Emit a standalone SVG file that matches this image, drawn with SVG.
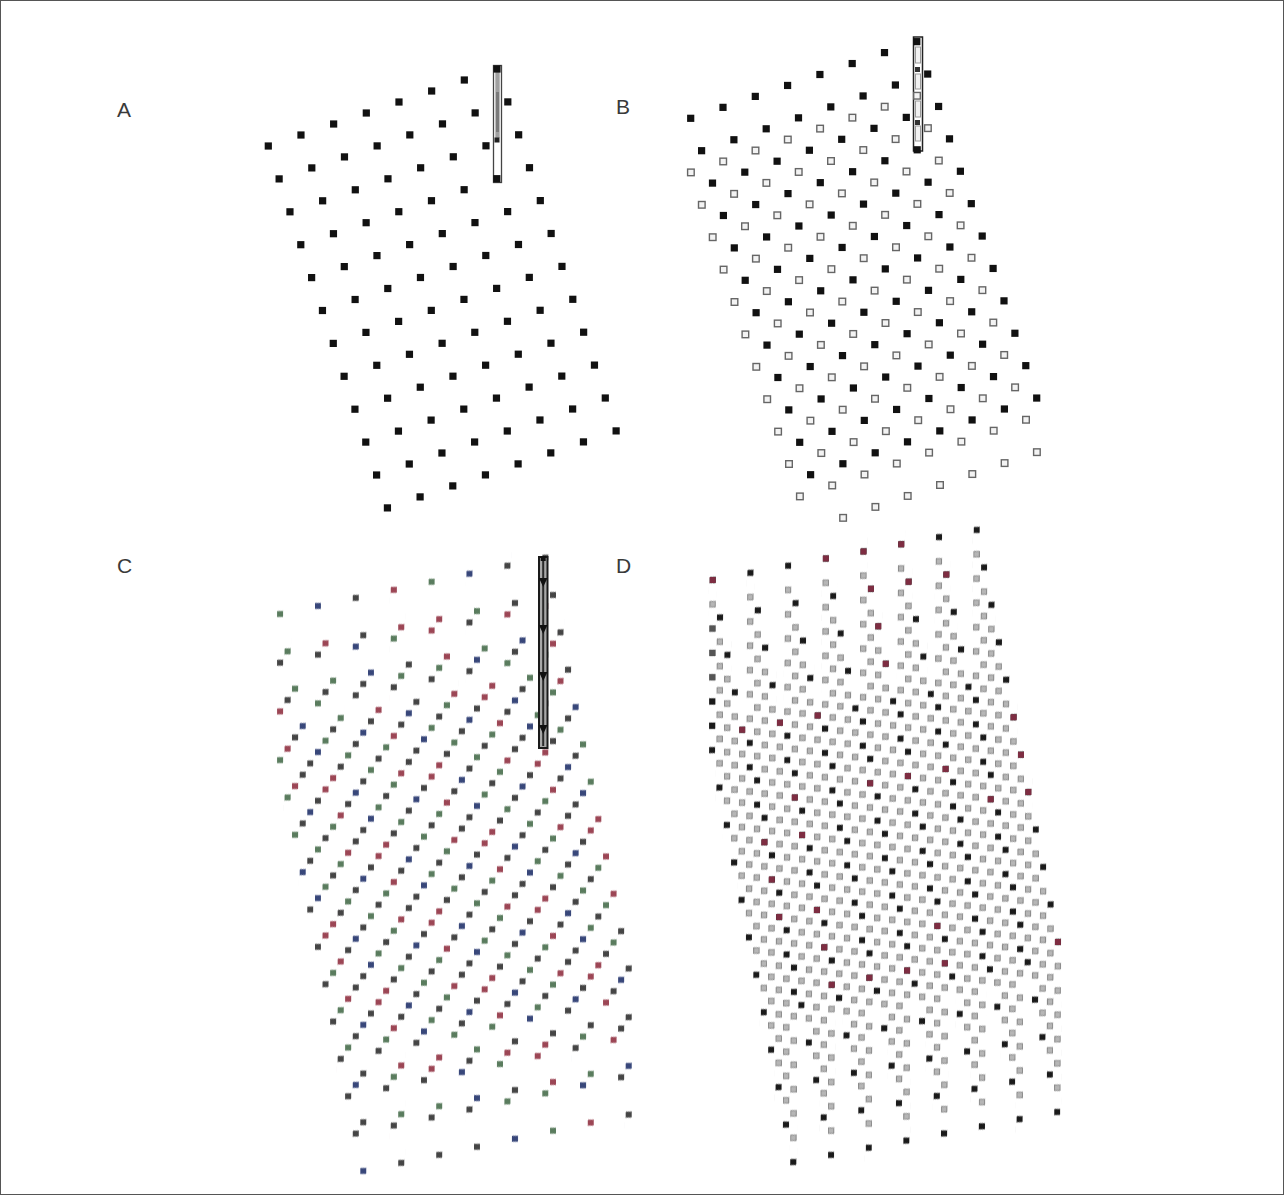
<svg xmlns="http://www.w3.org/2000/svg" width="1284" height="1195" viewBox="0 0 1284 1195">
<style>
.lbl{font-family:"Liberation Sans","DejaVu Sans",sans-serif;font-size:21px;fill:#3a3a3a}
</style>
<defs>
<rect id="sqA" x="-3.6" y="-3.6" width="7.2" height="7.2" fill="#111"/>
<rect id="sqO" x="-3.3" y="-3.3" width="6.6" height="6.6" fill="#f3f3f3" stroke="#666" stroke-width="1.4"/>
<g id="rowA"><use href="#sqA" x="0" y="0"/><use href="#sqA" x="32.67" y="-11"/><use href="#sqA" x="65.34" y="-22"/><use href="#sqA" x="98.01" y="-33"/><use href="#sqA" x="130.68" y="-44"/><use href="#sqA" x="163.35" y="-55"/><use href="#sqA" x="196.02" y="-66"/><use href="#sqA" x="228.69" y="-77"/></g>
<g id="rowB"><use href="#sqA" x="0" y="0"/><use href="#sqA" x="32.3" y="-10.95"/><use href="#sqA" x="64.6" y="-21.9"/><use href="#sqA" x="96.9" y="-32.85"/><use href="#sqA" x="129.2" y="-43.8"/><use href="#sqA" x="161.5" y="-54.75"/><use href="#sqA" x="193.8" y="-65.7"/><use href="#sqA" x="226.1" y="-76.65"/></g>
<g id="rowO7"><use href="#sqO" x="32.3" y="-10.95"/><use href="#sqO" x="64.6" y="-21.9"/><use href="#sqO" x="96.9" y="-32.85"/><use href="#sqO" x="129.2" y="-43.8"/><use href="#sqO" x="161.5" y="-54.75"/><use href="#sqO" x="193.8" y="-65.7"/><use href="#sqO" x="226.1" y="-76.65"/></g>
<g id="rowO"><use href="#sqO" x="0" y="0"/><use href="#rowO7"/></g>
<rect id="cK" transform="matrix(0.131927 0.030747 0 0.020534 0 0)" x="-3" y="-3" width="6" height="6" fill="#454545"/>
<rect id="cG" transform="matrix(0.131927 0.030747 0 0.020534 0 0)" x="-3" y="-3" width="6" height="6" fill="#5a7c5e"/>
<rect id="cR" transform="matrix(0.131927 0.030747 0 0.020534 0 0)" x="-3" y="-3" width="6" height="6" fill="#9c4655"/>
<rect id="cB" transform="matrix(0.131927 0.030747 0 0.020534 0 0)" x="-3" y="-3" width="6" height="6" fill="#38477a"/>
<rect id="dG" transform="matrix(0.132698 0.060888 0.000524 0.041393 0 0)" x="-2.7" y="-2.7" width="5.4" height="5.4" fill="#b6b6b6" stroke="#8a8a8a" stroke-width="1"/>
<rect id="dK" transform="matrix(0.132698 0.060888 0.000524 0.041393 0 0)" x="-3" y="-3" width="6" height="6" fill="#1a1a1a"/>
<rect id="dR" transform="matrix(0.132698 0.060888 0.000524 0.041393 0 0)" x="-3" y="-3" width="6" height="6" fill="#7e2d42"/>
<rect id="dM" transform="matrix(0.132698 0.060888 0.000524 0.041393 0 0)" x="-3" y="-3" width="6" height="6" fill="#555"/>
<pattern id="patC" patternUnits="userSpaceOnUse" x="-0.5" y="-0.5" width="7" height="3">
<use href="#cG" x="0.5" y="0.5"/><use href="#cR" x="1.5" y="0.5"/><use href="#cK" x="2.5" y="0.5"/><use href="#cB" x="3.5" y="0.5"/><use href="#cK" x="4.5" y="0.5"/><use href="#cG" x="5.5" y="0.5"/><use href="#cK" x="6.5" y="0.5"/>
<use href="#cK" x="0.5" y="1.5"/><use href="#cG" x="1.5" y="1.5"/><use href="#cR" x="2.5" y="1.5"/><use href="#cK" x="3.5" y="1.5"/><use href="#cK" x="4.5" y="1.5"/><use href="#cB" x="5.5" y="1.5"/><use href="#cG" x="6.5" y="1.5"/>
<use href="#cR" x="0.5" y="2.5"/><use href="#cK" x="1.5" y="2.5"/><use href="#cG" x="2.5" y="2.5"/><use href="#cK" x="3.5" y="2.5"/><use href="#cB" x="4.5" y="2.5"/><use href="#cK" x="5.5" y="2.5"/><use href="#cR" x="6.5" y="2.5"/>
</pattern>
<pattern id="patD" patternUnits="userSpaceOnUse" x="-0.5" y="-0.5" width="4" height="8">
<use href="#dK" x="0.5" y="0.5"/><use href="#dG" x="1.5" y="0.5"/><use href="#dG" x="2.5" y="0.5"/><use href="#dG" x="3.5" y="0.5"/>
<use href="#dG" x="0.5" y="1.5"/><use href="#dK" x="1.5" y="1.5"/><use href="#dG" x="2.5" y="1.5"/><use href="#dG" x="3.5" y="1.5"/>
<use href="#dG" x="0.5" y="2.5"/><use href="#dK" x="1.5" y="2.5"/><use href="#dG" x="2.5" y="2.5"/><use href="#dG" x="3.5" y="2.5"/>
<use href="#dG" x="0.5" y="3.5"/><use href="#dG" x="1.5" y="3.5"/><use href="#dK" x="2.5" y="3.5"/><use href="#dG" x="3.5" y="3.5"/>
<use href="#dG" x="0.5" y="4.5"/><use href="#dG" x="1.5" y="4.5"/><use href="#dK" x="2.5" y="4.5"/><use href="#dG" x="3.5" y="4.5"/>
<use href="#dG" x="0.5" y="5.5"/><use href="#dG" x="1.5" y="5.5"/><use href="#dG" x="2.5" y="5.5"/><use href="#dK" x="3.5" y="5.5"/>
<use href="#dG" x="0.5" y="6.5"/><use href="#dG" x="1.5" y="6.5"/><use href="#dG" x="2.5" y="6.5"/><use href="#dK" x="3.5" y="6.5"/>
<use href="#dK" x="0.5" y="7.5"/><use href="#dG" x="1.5" y="7.5"/><use href="#dG" x="2.5" y="7.5"/><use href="#dG" x="3.5" y="7.5"/>
</pattern>
</defs>
<rect x="0" y="0" width="1284" height="1195" fill="#fff"/>
<rect x="0.5" y="0.5" width="1283" height="1194" fill="none" stroke="#555" stroke-width="1"/>
<g id="labels">
<text class="lbl" x="117" y="117">A</text>
<text class="lbl" x="616" y="114">B</text>
<text class="lbl" x="117" y="573">C</text>
<text class="lbl" x="616" y="573">D</text>
</g>
<g id="panelA">
<g id="barA">
<rect x="493.5" y="65.5" width="8" height="117" fill="#fff" stroke="#444" stroke-width="1.3"/>
<rect x="495.3" y="72" width="4.4" height="66" fill="#a0a0a0"/>
<rect x="496" y="92" width="3" height="40" fill="#7a7a7a"/>
<rect x="494.5" y="137.5" width="5" height="5" fill="#222"/>
</g>
<use href="#rowA" x="268.3" y="146"/>
<use href="#rowA" x="279.13" y="178.9"/>
<use href="#rowA" x="289.96" y="211.8"/>
<use href="#rowA" x="300.79" y="244.7"/>
<use href="#rowA" x="311.62" y="277.6"/>
<use href="#rowA" x="322.45" y="310.5"/>
<use href="#rowA" x="333.28" y="343.4"/>
<use href="#rowA" x="344.11" y="376.3"/>
<use href="#rowA" x="354.94" y="409.2"/>
<use href="#rowA" x="365.77" y="442.1"/>
<use href="#rowA" x="376.6" y="475"/>
<use href="#rowA" x="387.43" y="507.9"/>
</g>
<g id="panelB">
<g id="barB">
<rect x="913.5" y="37" width="9" height="114" fill="#fff" stroke="#222" stroke-width="1.5"/>
<rect x="915.5" y="47" width="5" height="16" fill="#f2f2f2" stroke="#999" stroke-width="1"/>
<rect x="915.5" y="74" width="5" height="15" fill="#f2f2f2" stroke="#999" stroke-width="1"/>
<rect x="915.5" y="101" width="5" height="16" fill="#f2f2f2" stroke="#999" stroke-width="1"/>
<rect x="915.5" y="126" width="5" height="15" fill="#f2f2f2" stroke="#999" stroke-width="1"/>
<rect x="915" y="67" width="5" height="5" fill="#333"/>
<rect x="915" y="120" width="5" height="5" fill="#333"/>
</g>
<use href="#rowB" x="690.7" y="118.3"/>
<use href="#rowB" x="701.6" y="150.7"/>
<use href="#rowB" x="712.5" y="183.1"/>
<use href="#rowB" x="723.4" y="215.5"/>
<use href="#rowB" x="734.3" y="247.9"/>
<use href="#rowB" x="745.2" y="280.3"/>
<use href="#rowB" x="756.1" y="312.7"/>
<use href="#rowB" x="767" y="345.1"/>
<use href="#rowB" x="777.9" y="377.5"/>
<use href="#rowB" x="788.8" y="409.9"/>
<use href="#rowB" x="799.7" y="442.3"/>
<use href="#rowB" x="810.6" y="474.7"/>
<use href="#rowO" x="690.9" y="172.4"/>
<use href="#rowO" x="701.8" y="204.8"/>
<use href="#rowO" x="712.7" y="237.2"/>
<use href="#rowO" x="723.6" y="269.6"/>
<use href="#rowO" x="734.5" y="302"/>
<use href="#rowO" x="745.4" y="334.4"/>
<use href="#rowO" x="756.3" y="366.8"/>
<use href="#rowO" x="767.2" y="399.2"/>
<use href="#rowO" x="778.1" y="431.6"/>
<use href="#rowO" x="789" y="464"/>
<use href="#rowO" x="799.9" y="496.4"/>
<use href="#rowO7" x="810.8" y="528.8"/>
</g>
<g id="panelC">
<g transform="matrix(7.58,-11.35,0,48.7,280,614)">
<path fill="url(#patC)" d="M-0.5 -0.5h1v4h-1z M0.5 0.5h1v4h-1z M1.5 1.5h1v4h-1z M2.5 2.5h1v4h-1z M3.5 3.5h1v4h-1z M4.5 0.5h1v8h-1z M5.5 1.5h1v8h-1z M6.5 2.5h1v8h-1z M7.5 3.5h1v8h-1z M8.5 4.5h1v8h-1z M9.5 1.5h1v12h-1z M10.5 2.5h1v12h-1z M11.5 3.5h1v8h-1z M12.5 4.5h1v8h-1z M13.5 5.5h1v8h-1z M14.5 2.5h1v12h-1z M15.5 3.5h1v12h-1z M16.5 4.5h1v8h-1z M17.5 5.5h1v8h-1z M18.5 6.5h1v8h-1z M19.5 3.5h1v12h-1z M20.5 4.5h1v12h-1z M21.5 5.5h1v8h-1z M22.5 6.5h1v8h-1z M23.5 7.5h1v8h-1z M24.5 4.5h1v12h-1z M25.5 5.5h1v12h-1z M26.5 6.5h1v8h-1z M27.5 7.5h1v8h-1z M28.5 8.5h1v8h-1z M29.5 5.5h1v12h-1z M30.5 6.5h1v12h-1z M31.5 7.5h1v8h-1z M32.5 8.5h1v8h-1z M33.5 9.5h1v8h-1z M34.5 6.5h1v12h-1z M35.5 7.5h1v12h-1z M36.5 8.5h1v8h-1z M37.5 9.5h1v8h-1z M38.5 10.5h1v8h-1z M39.5 11.5h1v8h-1z M40.5 12.5h1v8h-1z M41.5 13.5h1v4h-1z M42.5 14.5h1v4h-1z M43.5 15.5h1v4h-1z M44.5 16.5h1v4h-1z M45.5 17.5h1v4h-1z"/>
</g>
<g id="barC">
<rect x="539" y="557" width="8.5" height="191" fill="#a8a8a8" stroke="#1a1a1a" stroke-width="2"/>
<line x1="543.2" y1="559" x2="543.2" y2="746" stroke="#2a2a2a" stroke-width="2"/>
<rect x="540.7" y="556" width="5" height="5" fill="#111"/>
<polygon points="539,578 547.5,578 543.2,587" fill="#111"/>
<polygon points="539,625 547.5,625 543.2,634" fill="#111"/>
<polygon points="539,672 547.5,672 543.2,681" fill="#111"/>
<polygon points="539,725 547.5,725 543.2,734" fill="#111"/>
</g>
</g>
<g id="panelD">
<g transform="matrix(7.58,-11.15,-0.096,24.3,712.7,580)">
<path fill="url(#patD)" d="M-0.5 -0.5h1v8h-1z M0.5 1.5h1v8h-1z M1.5 3.5h1v8h-1z M2.5 5.5h1v8h-1z M3.5 7.5h1v8h-1z M4.5 1.5h1v16h-1z M5.5 3.5h1v16h-1z M6.5 5.5h1v16h-1z M7.5 7.5h1v16h-1z M8.5 9.5h1v16h-1z M9.5 3.5h1v24h-1z M10.5 5.5h1v24h-1z M11.5 7.5h1v16h-1z M12.5 9.5h1v16h-1z M13.5 11.5h1v16h-1z M14.5 5.5h1v24h-1z M15.5 7.5h1v24h-1z M16.5 9.5h1v16h-1z M17.5 11.5h1v16h-1z M18.5 13.5h1v16h-1z M19.5 7.5h1v24h-1z M20.5 9.5h1v24h-1z M21.5 11.5h1v16h-1z M22.5 13.5h1v16h-1z M23.5 15.5h1v16h-1z M24.5 9.5h1v24h-1z M25.5 11.5h1v24h-1z M26.5 13.5h1v16h-1z M27.5 15.5h1v16h-1z M28.5 17.5h1v16h-1z M29.5 11.5h1v24h-1z M30.5 13.5h1v24h-1z M31.5 15.5h1v16h-1z M32.5 17.5h1v16h-1z M33.5 19.5h1v16h-1z M34.5 13.5h1v24h-1z M35.5 15.5h1v24h-1z M36.5 17.5h1v16h-1z M37.5 19.5h1v16h-1z M38.5 21.5h1v16h-1z M39.5 23.5h1v16h-1z M40.5 25.5h1v16h-1z M41.5 27.5h1v8h-1z M42.5 29.5h1v8h-1z M43.5 31.5h1v8h-1z M44.5 33.5h1v8h-1z M45.5 35.5h1v8h-1z"/>
<g id="redD">
<use href="#dR" x="0" y="0"/><use href="#dR" x="15" y="6"/><use href="#dR" x="20" y="8"/><use href="#dR" x="25" y="10"/>
<use href="#dR" x="26" y="12"/><use href="#dR" x="21" y="10"/><use href="#dR" x="22" y="12"/><use href="#dR" x="23" y="14"/>
<use href="#dR" x="31" y="14"/><use href="#dR" x="14" y="12"/><use href="#dR" x="9" y="10"/><use href="#dR" x="4" y="8"/>
<use href="#dR" x="11" y="14"/><use href="#dR" x="12" y="16"/><use href="#dR" x="7" y="14"/><use href="#dR" x="8" y="16"/>
<use href="#dR" x="14" y="20"/><use href="#dR" x="9" y="18"/><use href="#dR" x="30" y="28"/><use href="#dR" x="46" y="36"/>
<use href="#dR" x="31" y="30"/><use href="#dR" x="21" y="26"/><use href="#dR" x="26" y="28"/><use href="#dR" x="16" y="24"/>
<use href="#dR" x="15" y="22"/><use href="#dR" x="31" y="22"/><use href="#dR" x="26" y="20"/><use href="#dR" x="21" y="18"/>
<use href="#dR" x="37" y="26"/><use href="#dR" x="42" y="28"/><use href="#dR" x="41" y="26"/><use href="#dR" x="40" y="24"/>
</g>
<use href="#dM" x="0" y="2"/><use href="#dM" x="0" y="3"/><use href="#dM" x="0" y="4"/><use href="#dK" x="0" y="5"/><use href="#dK" x="0" y="6"/>
</g>
</g>
</svg>
